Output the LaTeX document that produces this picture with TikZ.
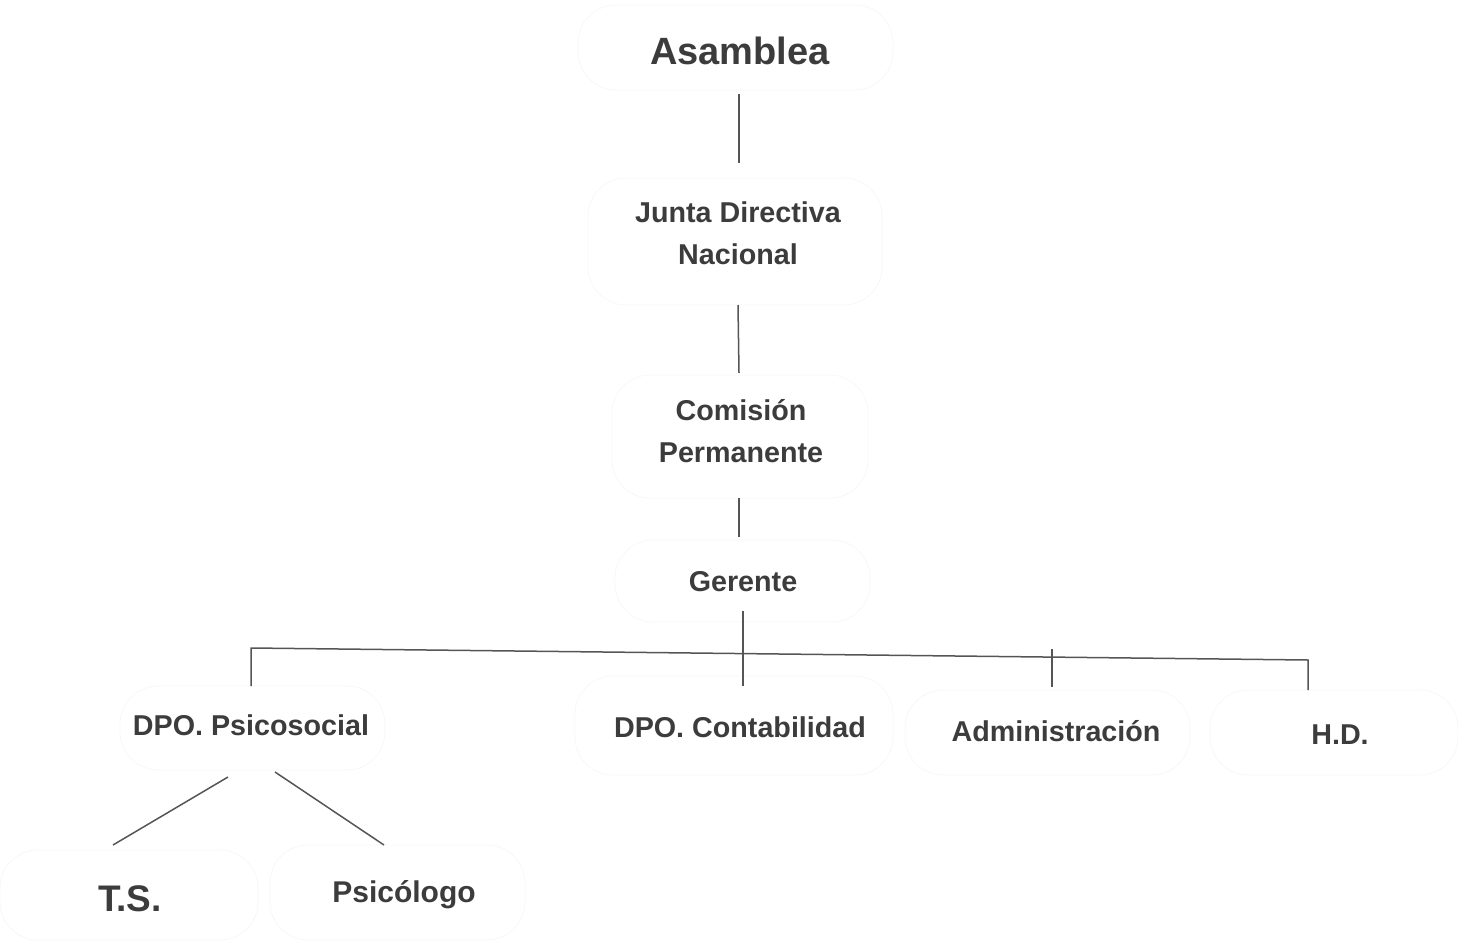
\documentclass[tikz,border=0pt]{standalone}
\usepackage{fontspec}
\setmainfont{Liberation Sans}
\definecolor{txt}{HTML}{3C3C3C}
\definecolor{ln}{HTML}{555555}
\definecolor{ghost}{HTML}{F7F7F7}
\begin{document}
\begin{tikzpicture}[x=1pt,y=-1pt,
  lbl/.style={font=\bfseries\fontsize{28.7}{42}\selectfont, text=txt, inner sep=0pt, anchor=base, align=center},
  ghostbox/.style={draw=ghost, line width=0.8pt, rounded corners=38pt},
  conn/.style={draw=ln, line width=1.5pt}]
\useasboundingbox (0,0) rectangle (1458,942);
% faint outline shapes
\draw[ghostbox] (578,5) rectangle (893,90);
\draw[ghostbox] (588,178) rectangle (882,305);
\draw[ghostbox] (612,375) rectangle (868,498);
\draw[ghostbox] (615,540) rectangle (870,622);
\draw[ghostbox] (120,686) rectangle (385,770);
\draw[ghostbox] (575,676) rectangle (893,775);
\draw[ghostbox] (905,690) rectangle (1190,775);
\draw[ghostbox] (1210,690) rectangle (1458,775);
\draw[ghostbox] (0,850) rectangle (258,940);
\draw[ghostbox] (270,845) rectangle (525,940);
% labels
\node[lbl, font=\bfseries\fontsize{38}{46}\selectfont] (asam) at (740,64) {Asamblea};
\node[lbl] (junta) at (738,264) {Junta Directiva\\Nacional};
\node[lbl] (comi) at (741,462) {Comisión\\Permanente};
\node[lbl] (ger) at (743,591) {Gerente};
\node[lbl] (psico) at (251,735) {DPO. Psicosocial};
\node[lbl] (conta) at (740,737) {DPO. Contabilidad};
\node[lbl] (admin) at (1056,741) {Administración};
\node[lbl] (hd) at (1340,744) {H.D.};
\node[lbl, font=\bfseries\fontsize{37}{42}\selectfont] (ts) at (130,911) {T.S.};
\node[lbl, font=\bfseries\fontsize{30}{42}\selectfont] (psicologo) at (404,902) {Psicólogo};
% connector end points
\coordinate (a1) at (739,94);   \coordinate (j0) at (739,163);
\coordinate (j1) at (738,305);  \coordinate (c0) at (739,373);
\coordinate (c1) at (739,498);  \coordinate (g0) at (739,537);
\coordinate (g1) at (743,611);  \coordinate (gend) at (743,686);
\coordinate (busL) at (251,648); \coordinate (busR) at (1308,660);
\coordinate (pL) at (251,686);
\coordinate (adTop) at (1052,649); \coordinate (adEnd) at (1052,687);
\coordinate (hdEnd) at (1308,690);
\coordinate (ps1) at (228,777); \coordinate (ts0) at (113,845);
\coordinate (ps2) at (275,772); \coordinate (pg0) at (384,845);
% connectors
\draw[conn] (a1) -- (j0);
\draw[conn] (j1) -- (c0);
\draw[conn] (c1) -- (g0);
\draw[conn] (g1) -- (gend);
\draw[conn] (pL) -- (busL) -- (busR) -- (hdEnd);
\draw[conn] (adTop) -- (adEnd);
\draw[conn] (ps1) -- (ts0);
\draw[conn] (ps2) -- (pg0);
\end{tikzpicture}
\end{document}
